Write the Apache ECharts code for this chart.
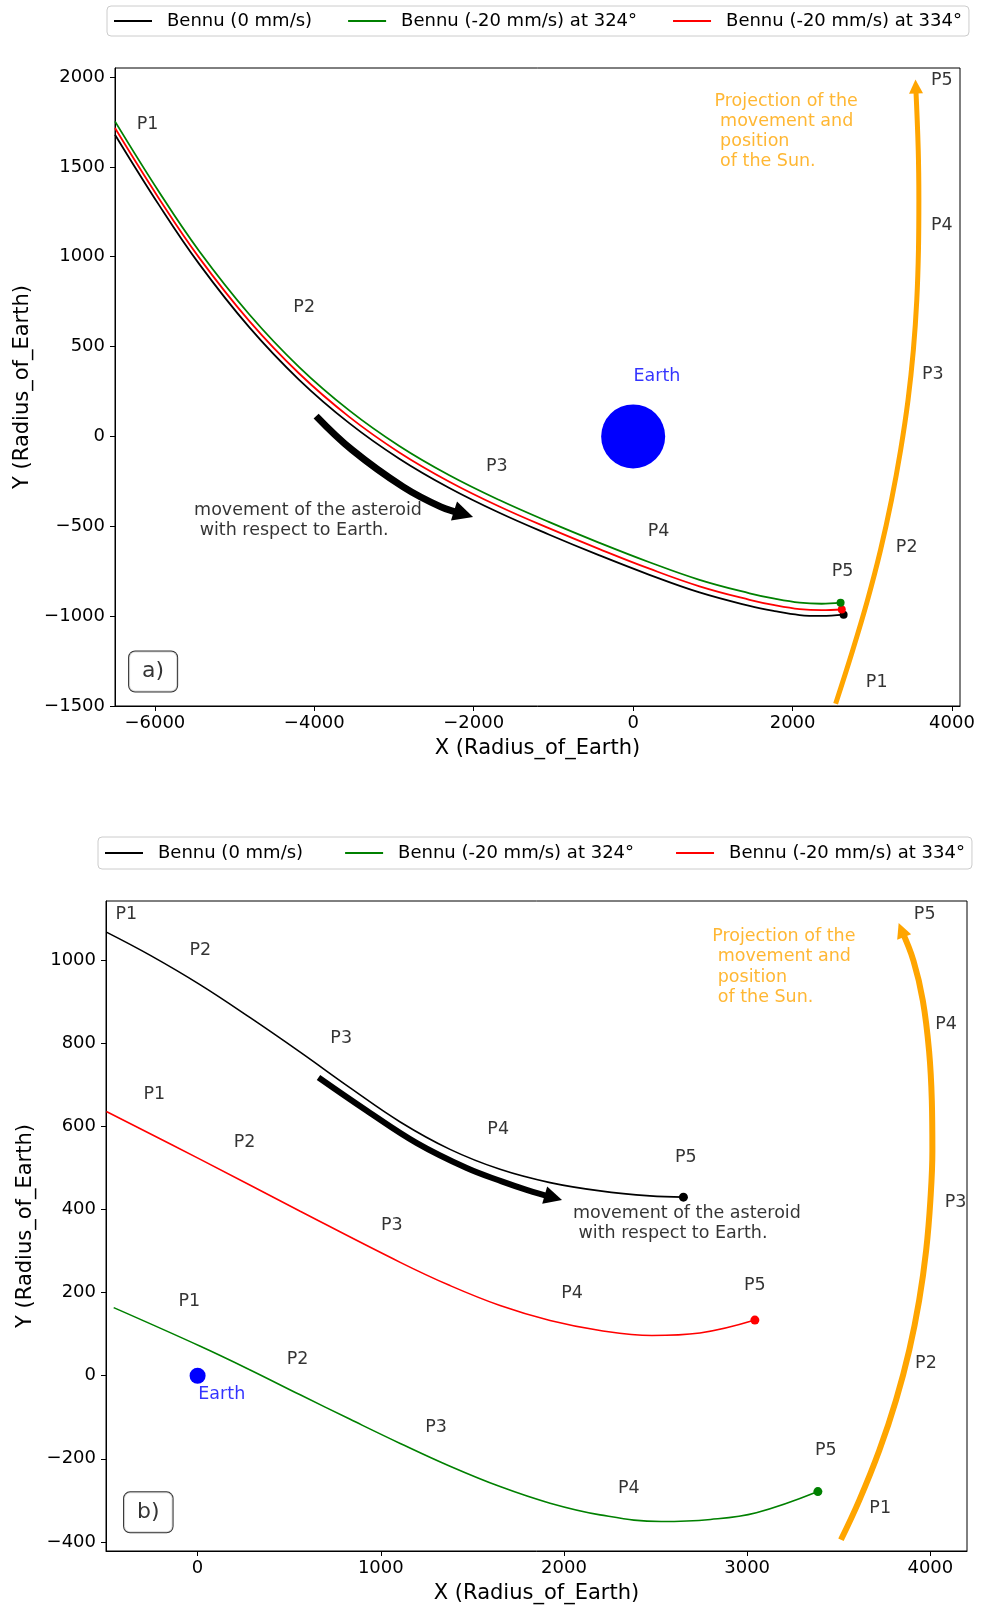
<!DOCTYPE html>
<html>
<head>
<meta charset="utf-8">
<script src="https://cdn.jsdelivr.net/npm/echarts@6/dist/echarts.min.js"></script>
<style>html,body{margin:0;padding:0;background:#fff}#c{width:987px;height:1608px}</style>
</head>
<body>
<div id="c"></div>
<script>
// ---------- data ----------
const seriesNames = ['Bennu (0 mm/s)', 'Bennu (-20 mm/s) at 324°', 'Bennu (-20 mm/s) at 334°'];

const ticksXA = [-6000, -4000, -2000, 0, 2000, 4000];
const ticksYA = [-1500, -1000, -500, 0, 500, 1000, 1500, 2000];
const ticksXB = [0, 1000, 2000, 3000, 4000];
const ticksYB = [-400, -200, 0, 200, 400, 600, 800, 1000];

// panel a trajectories [X, Y]
const bennu0A = [[-6500, 1679], [-5947, 1287], [-5445, 960], [-4817, 608], [-4190, 315], [-3562, 74], [-2934, -124], [-2306, -287], [-1679, -425], [-1051, -547], [-423, -662], [204, -770], [832, -868], [1460, -943], [1774, -972], [2088, -994], [2364, -999], [2640, -992]];
const bennu324A = [[-6500, 1753], [-5947, 1360], [-5445, 1032], [-4817, 680], [-4190, 386], [-3562, 145], [-2934, -53], [-2306, -216], [-1679, -354], [-1051, -477], [-423, -592], [204, -700], [832, -798], [1460, -873], [1774, -903], [2088, -925], [2364, -931], [2602, -925]];
const bennu334A = [[-6500, 1716], [-5947, 1323], [-5445, 995], [-4817, 643], [-4190, 350], [-3562, 109], [-2934, -89], [-2306, -252], [-1679, -390], [-1051, -512], [-423, -627], [204, -736], [832, -834], [1460, -909], [1774, -939], [2088, -961], [2364, -967], [2617, -963]];
const sunA = [[2540, -1487], [2753, -1191], [2939, -912], [3102, -634], [3240, -355], [3355, -76], [3448, 202], [3515, 481], [3558, 760], [3579, 1038], [3584, 1317], [3576, 1596], [3545, 1947]];
const moveA = [[-3977, 113], [-3524, -76], [-2885, -281], [-2412, -392], [-2128, -432]];
const earthA = [[0, 0]];

// panel b trajectories [X, Y]
const bennu0B = [[-498, 1068], [-258, 1012], [15, 941], [287, 862], [560, 779], [833, 693], [1106, 611], [1378, 545], [1651, 497], [1924, 465], [2197, 445], [2469, 433], [2652, 430]];
const bennu324B = [[-458, 164], [15, 71], [287, 14], [560, -46], [833, -105], [1106, -163], [1378, -218], [1651, -267], [1924, -307], [2197, -335], [2530, -351], [2800, -346], [3050, -330], [3386, -279]];
const bennu334B = [[-498, 636], [15, 521], [560, 396], [1106, 273], [1378, 217], [1651, 169], [1924, 133], [2197, 109], [2480, 97], [2742, 103], [3042, 134]];
const sunB = [[3512, -395], [3613, -299], [3722, -179], [3813, -58], [3885, 62], [3939, 182], [3977, 302], [4000, 422], [4011, 542], [4008, 662], [3993, 782], [3959, 903], [3908, 999], [3842, 1073]];
const moveB = [[660, 718], [924, 638], [1197, 560], [1469, 500], [1660, 468], [1800, 447], [1942, 429]];
const earthB = [[0, 0]];

// annotation texts [text, X, Y]
const pLabelsA = [['P1', -6092, 1735], ['P2', -4127, 716], ['P3', -1710, -168], ['P4', 318, -528], ['P5', 2628, -751],
  ['P5', 3871, 1983], ['P4', 3871, 1172], ['P3', 3758, 344], ['P2', 3431, -617], ['P1', 3055, -1370]];
const pLabelsB = [['P1', -389, 1111], ['P2', 15, 1025], ['P3', 784, 811], ['P4', 1641, 594], ['P5', 2665, 526],
  ['P1', -236, 678], ['P2', 256, 562], ['P3', 1060, 362], ['P4', 2044, 198], ['P5', 3042, 218],
  ['P1', -45, 178], ['P2', 546, 39], ['P3', 1302, -124], ['P4', 2354, -271], ['P5', 3429, -181],
  ['P5', 3969, 1111], ['P4', 4086, 845], ['P3', 4138, 416], ['P2', 3976, 30], ['P1', 3726, -319]];
const sunTextLines = ['Projection of the', ' movement and', ' position', ' of the Sun.'];
const moveTextLines = ['movement of the asteroid', ' with respect to Earth.'];
const sunTextPosA = [1021, 1921];
const sunTextPosB = [2809, 1083];
const moveTextPosA = [-5508, -355];
const moveTextPosB = [2049, 415];
const earthLabelA = [299, 331];
const earthLabelB = [132, -46];
const panelTagA = ['a)', -6022, -1308];
const panelTagB = ['b)', -269, -329];

// ---------- styling ----------
const FONT = 'DejaVu Sans';
const COLORS = ['#000000', '#008000', '#ff0000'];
const ORANGE = '#ffa500';
const BLUE = '#0000ff';
const fmt = v => String(v).replace('-', '\u2212');

function xAxis(gi, min, max, ticks) {
  return {
    type: 'value', gridIndex: gi, min, max,
    name: 'X (Radius_of_Earth)', nameLocation: 'middle', nameGap: 32,
    nameTextStyle: {fontFamily: FONT, fontSize: 21, color: '#000'},
    axisLine: {show: true, onZero: false, lineStyle: {color: '#000', width: 1}},
    axisTick: {show: true, length: 5, customValues: ticks, lineStyle: {color: '#000'}},
    axisLabel: {customValues: ticks, formatter: fmt, fontFamily: FONT, fontSize: 18, color: '#000', margin: 8},
    splitLine: {show: false}
  };
}
function yAxis(gi, min, max, ticks, gap) {
  return {
    type: 'value', gridIndex: gi, min, max,
    name: 'Y (Radius_of_Earth)', nameLocation: 'middle', nameGap: gap, nameRotate: 90,
    nameTextStyle: {fontFamily: FONT, fontSize: 21, color: '#000'},
    axisLine: {show: true, onZero: false, lineStyle: {color: '#000', width: 1}},
    axisTick: {show: true, length: 5, customValues: ticks, lineStyle: {color: '#000'}},
    axisLabel: {customValues: ticks, formatter: fmt, fontFamily: FONT, fontSize: 18, color: '#000', margin: 10},
    splitLine: {show: false}
  };
}
function traj(name, data, color, gi, width, dot) {
  const last = data.length - 1;
  return {
    type: 'line', name, xAxisIndex: gi, yAxisIndex: gi, data, smooth: 0.4,
    lineStyle: {color, width}, itemStyle: {color, opacity: 1},
    showSymbol: true, showAllSymbol: true,
    symbol: (v, p) => (p.dataIndex === last ? 'circle' : 'none'),
    symbolSize: dot, silent: true, animation: false, z: 3
  };
}
function arrow(data, color, gi, width, head) {
  const n = data.length;
  return [
    {type: 'line', xAxisIndex: gi, yAxisIndex: gi, data, smooth: 0.4, symbol: 'none',
     lineStyle: {color, width, cap: 'butt'}, itemStyle: {color}, silent: true, z: 2},
    {type: 'lines', coordinateSystem: 'cartesian2d', xAxisIndex: gi, yAxisIndex: gi, polyline: false,
     data: [{coords: [data[n - 2], data[n - 1]]}],
     symbol: ['none', 'triangle'], symbolSize: head,
     lineStyle: {color, width: 1, opacity: 1, curveness: 0}, silent: true, z: 2}
  ];
}
function texts(gi, pLabels, sunPos, movePos, earthPos, tag, sunLH) {
  const base = {fontFamily: FONT, fontSize: 17.5, color: '#000'};
  const data = pLabels.map(d => ({name: d[0], value: [d[1], d[2]],
    label: Object.assign({}, base, {position: 'inside', align: 'center', verticalAlign: 'middle'})}));
  data.push({name: sunTextLines.join('\n'), value: sunPos,
    label: Object.assign({}, base, {color: ORANGE, position: 'inside', align: 'left', verticalAlign: 'top', lineHeight: sunLH})});
  data.push({name: moveTextLines.join('\n'), value: movePos,
    label: Object.assign({}, base, {position: 'inside', align: 'left', verticalAlign: 'top', lineHeight: 20})});
  data.push({name: 'Earth', value: earthPos,
    label: Object.assign({}, base, {color: BLUE, position: 'inside', align: 'center', verticalAlign: 'middle'})});
  data.push({name: tag[0], value: [tag[1], tag[2]],
    label: Object.assign({}, base, {fontSize: 22, position: 'inside', align: 'center', verticalAlign: 'middle',
      backgroundColor: '#fff', borderColor: '#000', borderWidth: 1, borderRadius: 6, padding: [9, 13]})});
  return {type: 'scatter', xAxisIndex: gi, yAxisIndex: gi, data, symbol: 'circle', symbolSize: 1,
    itemStyle: {color: 'rgba(0,0,0,0)'}, label: {show: true, formatter: '{b}'}, silent: true, clip: false, z: 6};
}
function earth(gi, data, size) {
  return {type: 'scatter', xAxisIndex: gi, yAxisIndex: gi, data, symbol: 'circle', symbolSize: size,
    itemStyle: {color: BLUE, opacity: 1}, silent: true, z: 2};
}
function legend(left, top, gap, pad) {
  return {
    data: seriesNames, left, top, orient: 'horizontal', itemGap: gap, padding: pad,
    itemWidth: 38, itemHeight: 2, icon: 'rect',
    textStyle: {fontFamily: FONT, fontSize: 18, color: '#000', padding: [0, 0, 0, 10]},
    borderColor: '#cccccc', borderWidth: 1, borderRadius: 4, backgroundColor: '#fff',
    selectedMode: false
  };
}

const option = {
  animation: false,
  backgroundColor: '#fff',
  grid: [
    {left: 115, top: 68, width: 845, height: 638, show: true, borderColor: '#000', borderWidth: 1, backgroundColor: 'transparent'},
    {left: 106, top: 901, width: 861, height: 650, show: true, borderColor: '#000', borderWidth: 1, backgroundColor: 'transparent'}
  ],
  xAxis: [xAxis(0, -6500, 4100, ticksXA), xAxis(1, -500, 4200, ticksXB)],
  yAxis: [yAxis(0, -1500, 2050, ticksYA, 74), yAxis(1, -422, 1143, ticksYB, 70)],
  legend: [legend(107, 6, 36, [6, 7]), legend(98, 837, 42, [7, 7])],
  series: [
    earth(0, earthA, 64),
    ...arrow(sunA, ORANGE, 0, 5, 14),
    ...arrow(moveA, '#000', 0, 7, 20),
    traj(seriesNames[0], bennu0A, COLORS[0], 0, 1.8, 8),
    traj(seriesNames[2], bennu334A, COLORS[2], 0, 1.8, 8),
    traj(seriesNames[1], bennu324A, COLORS[1], 0, 1.8, 8),
    texts(0, pLabelsA, sunTextPosA, moveTextPosA, earthLabelA, panelTagA, 20),
    earth(1, earthB, 16),
    ...arrow(sunB, ORANGE, 1, 6, 15),
    ...arrow(moveB, '#000', 1, 6, 18),
    traj(seriesNames[0], bennu0B, COLORS[0], 1, 1.6, 9),
    traj(seriesNames[1], bennu324B, COLORS[1], 1, 1.6, 9),
    traj(seriesNames[2], bennu334B, COLORS[2], 1, 1.6, 9),
    texts(1, pLabelsB, sunTextPosB, moveTextPosB, earthLabelB, panelTagB, 20.5)
  ]
};

const chart = echarts.init(document.getElementById('c'), null, {renderer: 'canvas'});
chart.setOption(option);
</script>
</body>
</html>
